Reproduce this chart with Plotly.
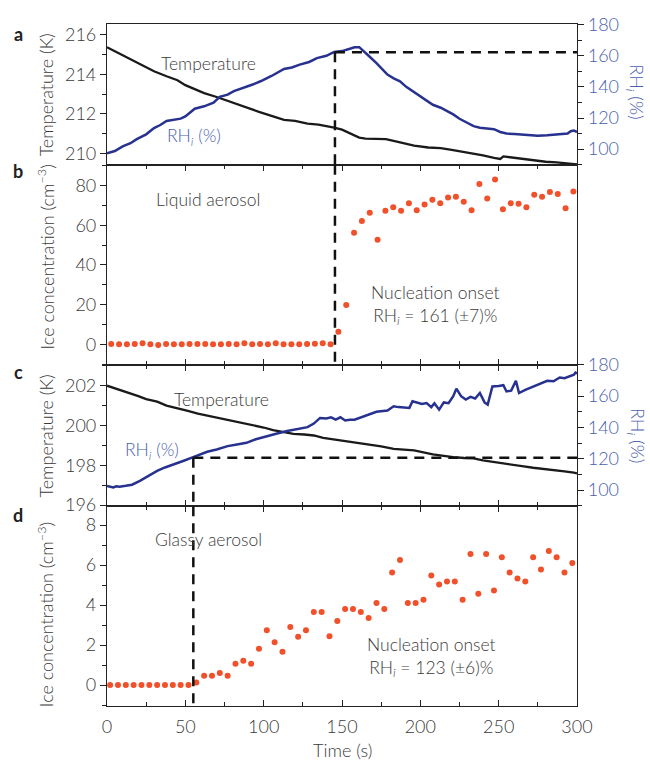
import plotly.graph_objects as go

# ---------------- data ----------------
# Panel a (liquid aerosol): temperature (K) and RH_i (%) vs time (s)
time_temp_a = [0, 10, 20, 25, 30, 38, 45, 50, 55, 62, 70, 77, 84, 90, 97, 105, 113, 120, 128, 135, 140,
               145, 150, 155, 161, 165, 170, 178, 185, 190, 196, 205, 213, 220, 230, 240, 247, 251, 253,
               258, 263, 268, 275, 280, 287, 294, 300]
temp_a = [215.37, 214.95, 214.55, 214.36, 214.15, 213.9, 213.7, 213.45, 213.27, 213.05, 212.85, 212.65,
          212.45, 212.3, 212.1, 211.9, 211.7, 211.65, 211.5, 211.45, 211.38, 211.3, 211.2, 211.0, 210.8,
          210.75, 210.75, 210.72, 210.6, 210.5, 210.39, 210.3, 210.27, 210.18, 210.05, 209.9, 209.77,
          209.72, 209.85, 209.8, 209.72, 209.67, 209.62, 209.58, 209.55, 209.5, 209.45]

time_rh_a = [0, 5, 10, 15, 19, 25, 30, 34, 38, 43, 47, 50, 53, 56, 62, 68, 72, 77, 81, 88, 93, 98, 105,
             113, 118, 123, 129, 134, 140, 145, 150, 155, 158, 161, 164, 167, 172, 176, 179, 183, 187,
             191, 196, 200, 204, 208, 213, 217, 221, 225, 230, 234, 238, 243, 247, 251, 255, 260, 265,
             270, 275, 281, 286, 290, 294, 296, 298, 300]
rh_a = [97.3, 98.8, 101.8, 103.8, 106.4, 109.5, 113.5, 115.5, 118.1, 119.0, 119.6, 121.0, 123.4, 126.0,
        127.5, 129.8, 133.6, 135.0, 137.3, 139.5, 141.5, 143.6, 147.0, 151.5, 152.5, 154.3, 156.0,
        158.5, 160.0, 162.5, 163.0, 164.5, 165.5, 165.5, 163.0, 160.0, 155.3, 151.0, 147.9, 145.5,
        143.6, 140.0, 136.6, 133.5, 130.9, 128.5, 126.6, 124.5, 122.3, 119.5, 116.6, 114.8, 113.8,
        113.5, 112.8, 111.0, 110.0, 109.8, 109.4, 109.0, 108.6, 108.9, 109.5, 109.8, 110.0, 111.5,
        112.0, 111.0]

# Panel b: ice concentration (cm^-3), liquid aerosol
time_b = [2.7 + 5 * k for k in range(60)]
ice_b = [0.2, 0.1, 0.1, 0.2, 0.5, 0.1, -0.3, 0.2, 0.1, 0.1, 0.2, 0.2, 0.2, 0.1, 0.1, 0.2, 0.1, 0.6,
         0.1, 0.2, 0.1, 0.5, 0.1, 0.1, 0.1, 0.2, 0.3, 0.5, 0.0, 6.4, 19.8, 56.2, 62.1, 66.3, 52.7,
         67.3, 69.1, 67.3, 71.1, 67.6, 70.5, 72.8, 71.1, 74.0, 74.3, 71.8, 67.5, 80.8, 73.5, 83.0,
         68.1, 71.1, 70.8, 69.1, 75.3, 74.3, 76.7, 75.7, 68.6, 77.0]

# Panel c (glassy aerosol): temperature (K) and RH_i (%)
time_temp_c = [0, 6, 13, 20, 25, 32, 38, 45, 51, 58, 64, 72, 81, 88, 94, 100, 106, 113, 119, 126, 132,
               138, 145, 153, 160, 166, 175, 183, 190, 196, 202, 208, 215, 221, 228, 234, 240, 247, 253,
               260, 266, 272, 279, 285, 292, 298, 300]
temp_c = [202.0, 201.85, 201.68, 201.48, 201.33, 201.2, 201.0, 200.88, 200.75, 200.6, 200.5, 200.35,
          200.22, 200.1, 200.02, 199.9, 199.77, 199.68, 199.58, 199.55, 199.5, 199.38, 199.3, 199.22,
          199.12, 199.05, 198.95, 198.83, 198.8, 198.75, 198.65, 198.55, 198.48, 198.41, 198.37,
          198.35, 198.25, 198.16, 198.08, 198.0, 197.95, 197.88, 197.83, 197.78, 197.7, 197.63, 197.6]

time_rh_c = [0, 2, 4, 6, 8, 12, 16, 21, 26, 32, 37, 43, 49, 55, 60, 64, 70, 77, 83, 89, 95, 102, 108,
             115, 121, 128, 132, 136, 140, 143, 146, 149, 152, 155, 158, 162, 166, 172, 179, 183, 186,
             190, 193, 195, 198, 201, 204, 207, 209, 212, 215, 218, 221, 223, 226, 229, 232, 235, 238,
             241, 243, 246, 250, 253, 255, 258, 261, 263, 267, 272, 276, 281, 285, 289, 292, 295, 298,
             299, 300]
rh_c = [102.7, 102.0, 101.7, 102.5, 102.2, 102.8, 103.5, 106.0, 109.0, 112.3, 114.5, 116.9, 118.8,
        121.1, 123.0, 124.5, 126.0, 128.1, 129.2, 130.2, 132.5, 134.5, 136.0, 137.7, 139.0, 140.2,
        142.5, 146.1, 145.7, 146.5, 145.0, 146.5, 144.5, 145.0, 145.0, 146.5, 148.2, 150.0, 150.8,
        153.5, 153.0, 152.5, 152.5, 156.7, 156.0, 155.0, 155.6, 153.0, 155.5, 151.4, 156.0, 155.5,
        160.0, 164.8, 160.0, 157.8, 159.5, 158.5, 162.0, 156.0, 154.6, 166.2, 166.5, 167.0, 163.0,
        163.5, 169.8, 162.0, 164.0, 166.2, 168.0, 169.8, 169.5, 171.9, 171.5, 172.5, 173.7, 175.0,
        174.5]

# Panel d: ice concentration (cm^-3), glassy aerosol
time_d = [2 + 5 * k for k in range(60)]
ice_d = [0, 0, 0, 0, 0, 0, 0, 0, 0, 0, 0, 0.13, 0.46, 0.46, 0.60, 0.46, 1.06, 1.21, 1.06, 1.81, 2.74,
         2.14, 1.66, 2.90, 2.42, 2.74, 3.65, 3.65, 2.44, 3.20, 3.80, 3.80, 3.65, 3.35, 4.10, 3.80,
         5.63, 6.26, 4.10, 4.10, 4.27, 5.48, 5.03, 5.18, 5.18, 4.27, 6.56, 4.57, 6.56, 4.73, 6.39,
         5.63, 5.33, 5.18, 6.39, 5.78, 6.71, 6.39, 5.63, 6.11]

# nucleation onset markers (time s, RH_i %)
onset_liquid = (145.5, 162.3)
onset_glassy = (55.1, 120.7)

x_ticks = [0, 50, 100, 150, 200, 250, 300]
temp_a_ticks = [210, 212, 214, 216]
temp_c_ticks = [196, 198, 200, 202]
rh_ticks = [100, 120, 140, 160, 180]
ice_b_ticks = [0, 20, 40, 60, 80]
ice_d_ticks = [0, 2, 4, 6, 8]

# ---------------- style ----------------
FONT = "Lato"
W = 300
TXT = "#3a3a3a"
BLUE_TXT = "#4a5fae"
RH_COL = "#27318f"
DOT = "#f0502a"
AX = "#222222"
FS = 18
AS = 17.5

fig = go.Figure()
fig.add_trace(go.Scatter(x=time_temp_a, y=temp_a, mode="lines", line=dict(color="#1a1a1a", width=2.3),
                         xaxis="x", yaxis="y", showlegend=False))
fig.add_trace(go.Scatter(x=time_rh_a, y=rh_a, mode="lines", line=dict(color=RH_COL, width=2.5),
                         xaxis="x", yaxis="y2", showlegend=False))
fig.add_trace(go.Scatter(x=time_b, y=ice_b, mode="markers", marker=dict(color=DOT, size=6),
                         xaxis="x2", yaxis="y3", showlegend=False, cliponaxis=False))
fig.add_trace(go.Scatter(x=time_temp_c, y=temp_c, mode="lines", line=dict(color="#1a1a1a", width=2.3),
                         xaxis="x3", yaxis="y4", showlegend=False))
fig.add_trace(go.Scatter(x=time_rh_c, y=rh_c, mode="lines", line=dict(color=RH_COL, width=2.5),
                         xaxis="x3", yaxis="y5", showlegend=False))
fig.add_trace(go.Scatter(x=time_d, y=ice_d, mode="markers", marker=dict(color=DOT, size=6),
                         xaxis="x4", yaxis="y6", showlegend=False, cliponaxis=False))

dom_a = [0.7937, 1.0]
dom_b = [0.5003, 0.7937]
dom_c = [0.293, 0.5003]
dom_d = [0.0, 0.293]

tickfont = dict(family=FONT, size=FS, color=TXT, weight=W)
bluefont = dict(family=FONT, size=FS, color=BLUE_TXT, weight=W)


def xax(anchor, labels=False, mirror="ticks", ticks="inside"):
    d = dict(domain=[0, 1], anchor=anchor, range=[0, 300], showline=True, linecolor=AX, linewidth=1.2,
             mirror=mirror, ticks=ticks, ticklen=6, tickwidth=1.2, tickcolor=AX, tickvals=x_ticks,
             showticklabels=labels, tickfont=tickfont, showgrid=False, zeroline=False)
    if ticks:
        d["minor"] = dict(ticks=ticks, dtick=25, ticklen=4, tickcolor=AX, tickwidth=1.2)
    return d


def yax(anchor, dom, rng, tv, minor_dt, side="left", overlay=None, font=tickfont, mirror=True):
    d = dict(anchor=anchor, range=rng, tickvals=tv, side=side, showline=True, linecolor=AX,
             linewidth=1.2, ticks="outside", ticklen=6, tickwidth=1.2, tickcolor=AX, tickfont=font,
             showgrid=False, zeroline=False, mirror=mirror,
             minor=dict(ticks="outside", dtick=minor_dt, ticklen=4, tickcolor=AX, tickwidth=1.2))
    if overlay:
        d["overlaying"] = overlay
    else:
        d["domain"] = dom
    return d


fig.update_layout(
    width=650, height=760,
    margin=dict(l=107, r=73, t=21, b=54),
    paper_bgcolor="white", plot_bgcolor="white",
    font=dict(family=FONT, color=TXT),
    xaxis=xax("y", labels=False, mirror=True, ticks=""),
    xaxis2=xax("y3"),
    xaxis3=xax("y4"),
    xaxis4=xax("y6", labels=True),
    yaxis=yax("x", dom_a, [209.43, 216.54], temp_a_ticks, 1, mirror=False),
    yaxis2=yax("x", None, [90, 180.4], rh_ticks, 10, side="right", overlay="y", font=bluefont, mirror=False),
    yaxis3=yax("x2", dom_b, [-10.3, 90.5], ice_b_ticks, 10),
    yaxis4=yax("x3", dom_c, [195.95, 203.05], temp_c_ticks, 1, mirror=False),
    yaxis5=yax("x3", None, [89.8, 180.0], rh_ticks, 10, side="right", overlay="y4", font=bluefont, mirror=False),
    yaxis6=yax("x4", dom_d, [-1.05, 8.95], ice_d_ticks, 1),
)
fig.update_xaxes(ticklabelstandoff=4)

# ---------- dashed onset lines ----------
dash = dict(color="#111111", width=2.5, dash="10px,7px")
t1, r1 = onset_liquid
fig.add_shape(type="line", xref="x", yref="y2", x0=t1, x1=300, y0=r1, y1=r1, line=dash)
fig.add_shape(type="line", xref="x", yref="y2", x0=t1, x1=t1, y0=r1, y1=90, line=dash)
fig.add_shape(type="line", xref="x2", yref="y3 domain", x0=t1, x1=t1, y0=1, y1=0, line=dash)
t2, r2 = onset_glassy
fig.add_shape(type="line", xref="x3", yref="y5", x0=t2, x1=300, y0=r2, y1=r2, line=dash)
fig.add_shape(type="line", xref="x3", yref="y5", x0=t2, x1=t2, y0=r2, y1=89.8, line=dash)
fig.add_shape(type="line", xref="x4", yref="y6 domain", x0=t2, x1=t2, y0=1, y1=0, line=dash)

# ---------- annotations ----------
ann = []
def A(text, x, y, xref, yref, size=AS, color=TXT, weight=W, **kw):
    ann.append(dict(text=text, x=x, y=y, xref=xref, yref=yref, showarrow=False,
                    xanchor="center", yanchor="middle",
                    font=dict(family=FONT, size=size, color=color, weight=weight), **kw))

RH_LABEL = "RH<sub><i>i</i></sub> (%)"
A("Temperature", 64.5, 214.54, "x", "y")
A(RH_LABEL, 55.5, 210.81, "x", "y", color=BLUE_TXT)
A("Liquid aerosol", 64.5, 73.0, "x2", "y3")
A("Nucleation onset<br>RH<sub><i>i</i></sub> = 161 (±7)%", 209.4, 19.6, "x2", "y3")
A("Temperature", 73.4, 201.3, "x3", "y4")
A(RH_LABEL, 28.7, 198.7, "x3", "y4", color=BLUE_TXT)
A("Glassy aerosol", 65.1, 7.26, "x4", "y6")
A("Nucleation onset<br>RH<sub><i>i</i></sub> = 123 (±6)%", 207.2, 1.39, "x4", "y6")

# panel letters
for lab, yy in [("a", 0.985), ("b", 0.784), ("c", 0.49), ("d", 0.28)]:
    A("<b>%s</b>" % lab, -0.189, yy, "paper", "paper", size=18, color="#222222", weight=700)

# axis titles
xt = -0.1298
A("Temperature (K)", xt, sum(dom_a) / 2, "paper", "paper", size=FS, textangle=-90)
A("Ice concentration (cm<sup>−3</sup>)", xt, sum(dom_b) / 2 + 0.012, "paper", "paper", size=FS, textangle=-90)
A("Temperature (K)", xt, sum(dom_c) / 2, "paper", "paper", size=FS, textangle=-90)
A("Ice concentration (cm<sup>−3</sup>)", xt, sum(dom_d) / 2 - 0.012, "paper", "paper", size=FS, textangle=-90)
A(RH_LABEL, 1.1255, 0.9, "paper", "paper", size=FS, color=BLUE_TXT, textangle=90)
A(RH_LABEL, 1.1255, 0.396, "paper", "paper", size=FS, color=BLUE_TXT, textangle=90)
A("Time (s)", 0.5, -0.064, "paper", "paper", size=FS)

fig.update_layout(annotations=ann)
fig.write_html("out.html")
